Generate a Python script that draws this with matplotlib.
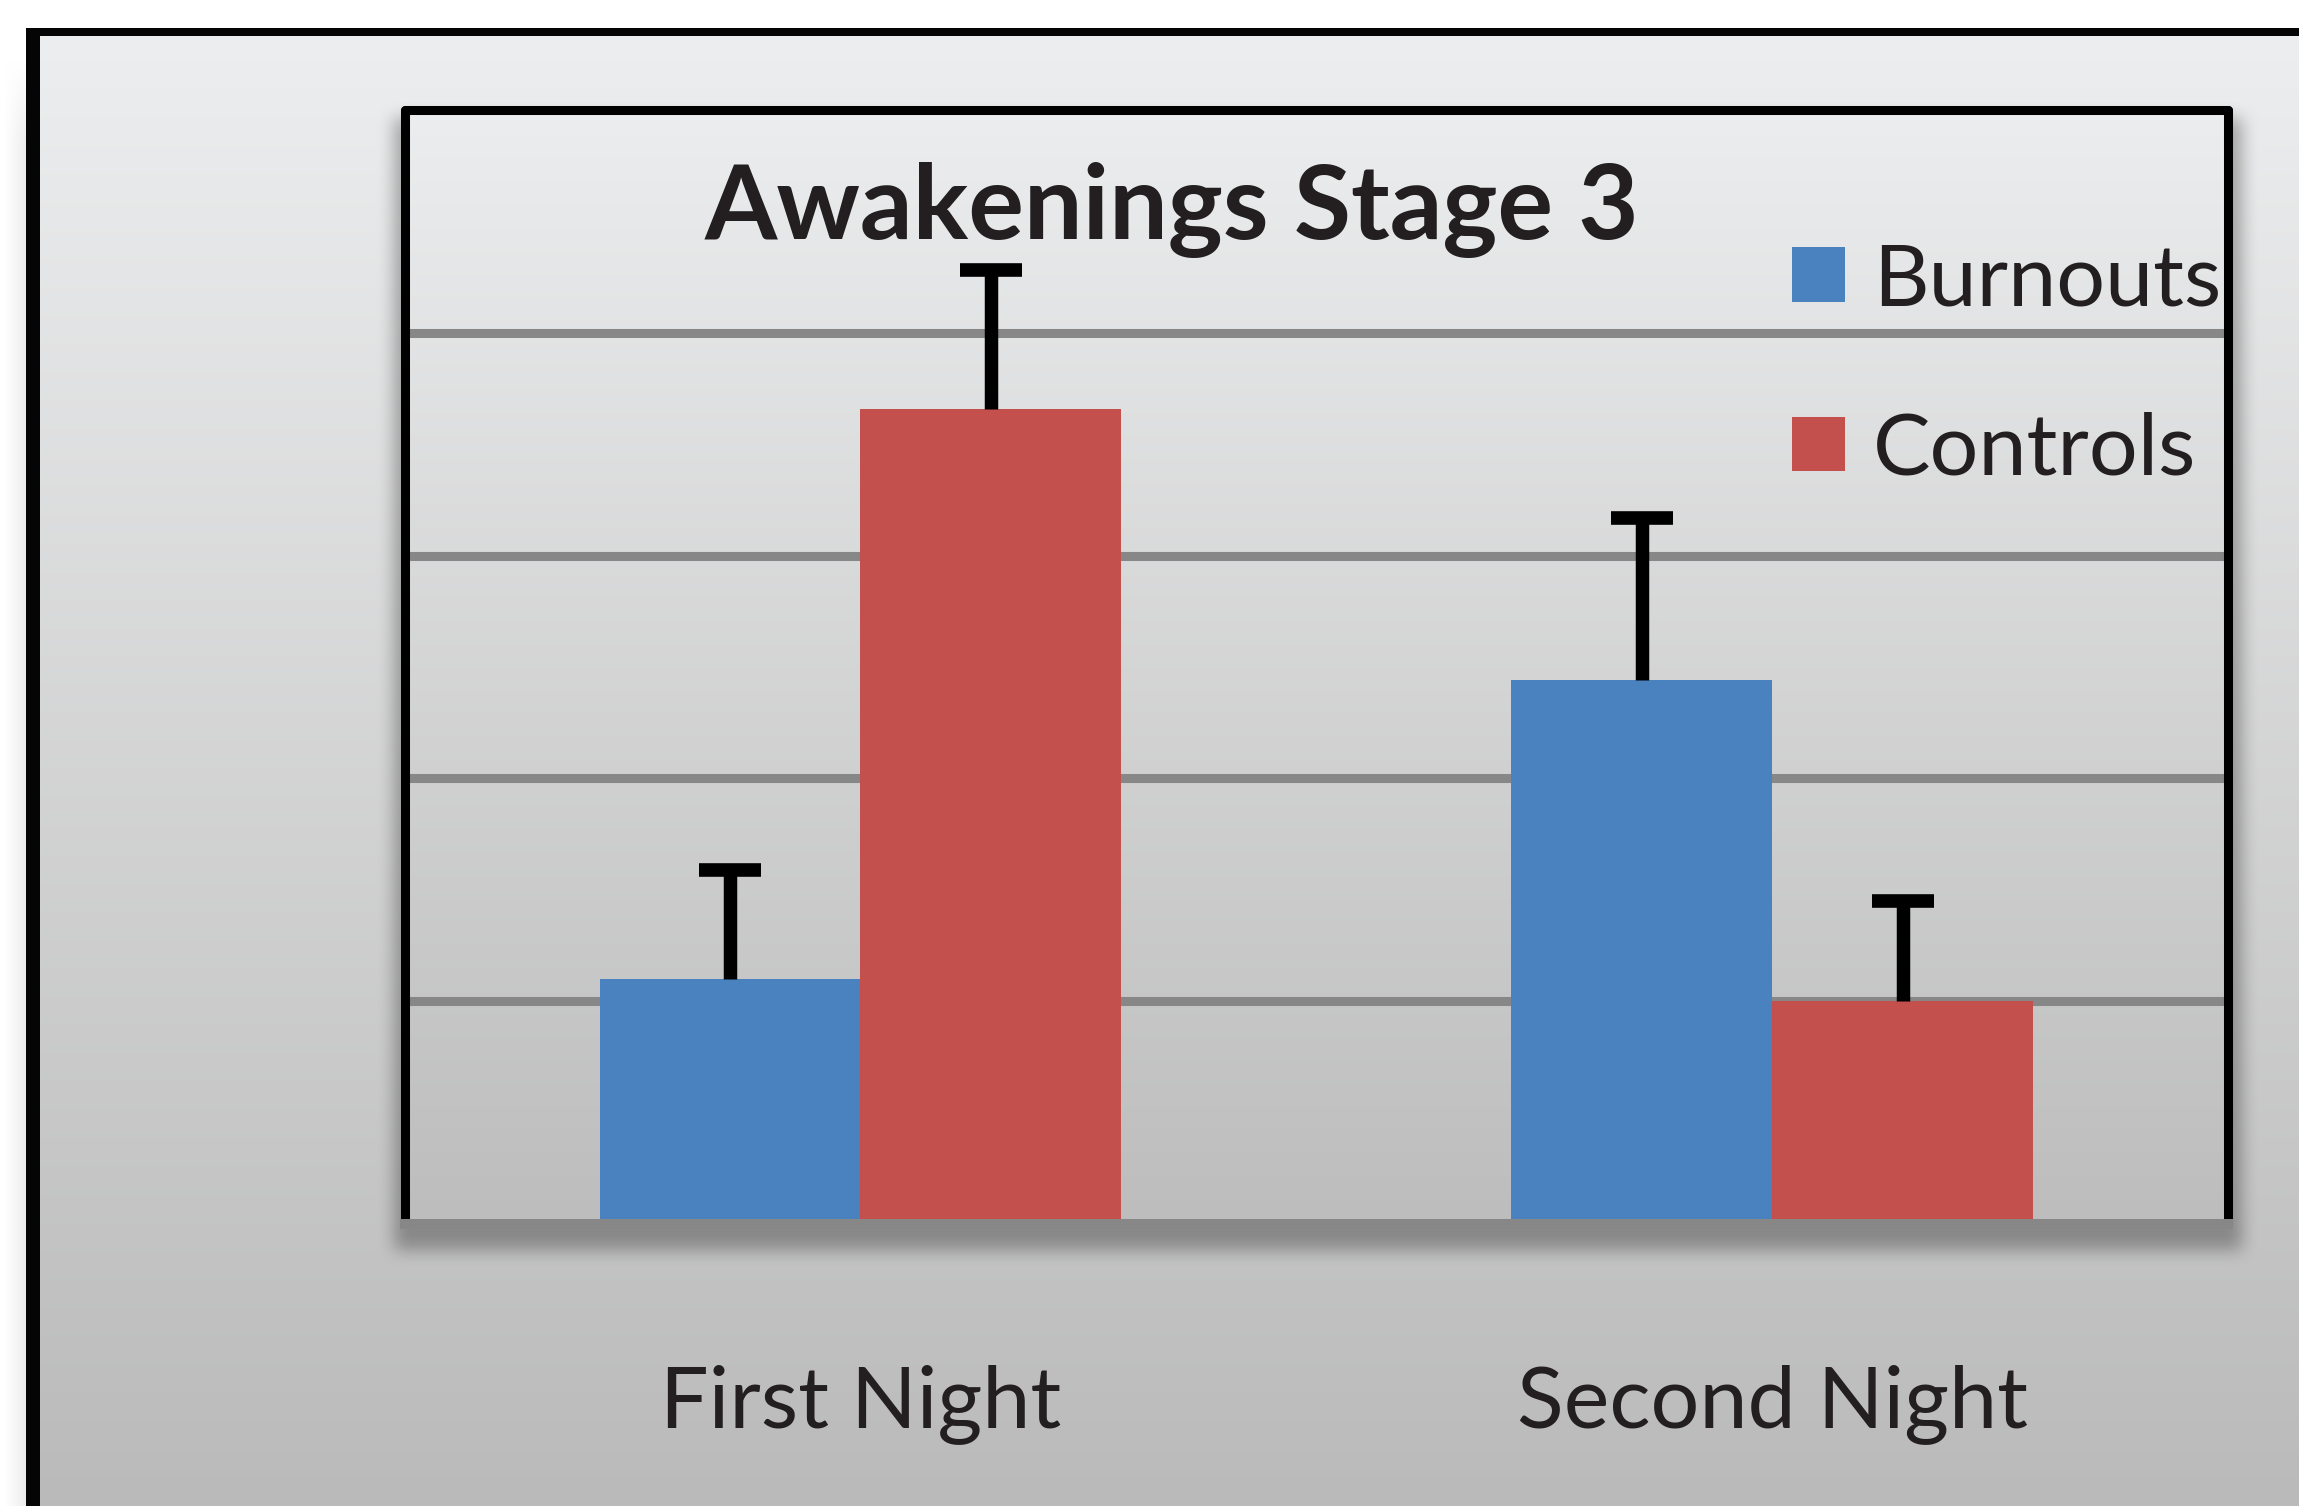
import numpy as np
import matplotlib
matplotlib.use("Agg")
import matplotlib.pyplot as plt
from matplotlib.patches import Patch

# ---- data ----
categories = ["First Night", "Second Night"]
series_names = ["Burnouts", "Controls"]
burnouts = [1.10, 2.44]
burnouts_err = [0.49, 0.73]
controls = [3.66, 1.00]
controls_err = [0.62, 0.45]
title = "Awakenings Stage 3"

# ---- style ----
BLUE = "#4A81BF"
RED = "#C4504E"
GRID = "#878787"
TEXT = "#231F20"

W, H = 2299, 1506
DPI = 100
plt.rcParams["font.family"] = ["Lato", "DejaVu Sans"]

fig = plt.figure(figsize=(W / DPI, H / DPI), dpi=DPI)
fig.patch.set_facecolor("white")


def soft_interval(n, a, b, radius):
    """1-D indicator of [a, b) smoothed by two box filters."""
    pad = 4 * radius
    idx = np.arange(-pad, n + pad)
    ind = ((idx >= a) & (idx < b)).astype(float)
    k = np.ones(2 * radius + 1) / (2 * radius + 1)
    out = np.convolve(np.convolve(ind, k, mode="same"), k, mode="same")
    return out[pad:pad + n]


# ---- slide backdrop (pixel space) ----
yy = np.arange(H, dtype=float)[:, None]
xx = np.arange(W, dtype=float)[None, :]
top_c = np.array([237, 238, 239]) / 255.0
bot_c = np.array([186, 186, 186]) / 255.0
t = np.clip((yy - 32) / (H - 32), 0, 1)[..., None]
img = np.empty((H, W, 3))
img[:] = top_c * (1 - t) + bot_c * t

# soft shadow under the chart box
shadow = 0.30 * soft_interval(H, 118, 1250, 9)[:, None] * soft_interval(W, 394, 2242, 9)[None, :]
img *= (1 - shadow[..., None])

# white margin outside the slide frame, with a faint shade on the left
outside = np.broadcast_to((xx < 26) | (yy < 28), (H, W))
shade = 0.07 * np.clip((xx - 4) / 22, 0, 1) * np.clip((yy - 60) / 80, 0, 1)
white = 1 - np.broadcast_to(shade, (H, W))
img[outside] = np.repeat(white[outside][:, None], 3, axis=1)

# slide frame
img[28:36, 26:] = 0.02
img[28:, 26:40] = 0.02

bg = fig.add_axes([0, 0, 1, 1], zorder=-10)
bg.imshow(img, extent=(0, W, H, 0), interpolation="bilinear", aspect="auto")
bg.set_xlim(0, W)
bg.set_ylim(H, 0)
bg.axis("off")

# ---- chart ----
ax = fig.add_axes([404.5 / W, 1 - 1224 / H, (2228 - 404.5) / W, (1224 - 110) / H])
ax.patch.set_alpha(0)

ymax = 5
grad = np.linspace(0, 1, 256)[:, None, None]
inner_top = np.array([236, 237, 238]) / 255.0
inner_bot = np.array([189, 189, 189]) / 255.0
ax.imshow(inner_top * (1 - grad) + inner_bot * grad, extent=(-0.5, 1.5, 0, ymax),
          aspect="auto", origin="upper", zorder=0, interpolation="bilinear")

x = np.arange(len(categories))
w = 0.286
ax.bar(x - w / 2, burnouts, w, color=BLUE, zorder=2)
ax.bar(x + w / 2, controls, w, color=RED, zorder=2)

# upper-only error bars: hide the caps that sit on the bar tops
err_kw = dict(fmt="none", ecolor="black", elinewidth=9.7, capsize=22.3, capthick=9.8, zorder=3)
for xs, vals, errs in [(x - w / 2, burnouts, burnouts_err), (x + w / 2, controls, controls_err)]:
    _, caps, _ = ax.errorbar(xs, vals, yerr=[np.zeros(len(xs)), errs], **err_kw)
    for cap in caps:
        if np.allclose(cap.get_ydata(), vals):
            cap.set_visible(False)

ax.set_xlim(-0.5, 1.5)
ax.set_ylim(0, ymax)
ax.set_yticks([1, 2, 3, 4])
ax.set_xticks([])
ax.set_axisbelow(True)
ax.yaxis.grid(True, color=GRID, linewidth=6.5)
ax.tick_params(left=False, labelleft=False, bottom=False, labelbottom=False)

for side in ["left", "top", "right"]:
    sp = ax.spines[side]
    sp.set_color("black")
    sp.set_linewidth(6.5)
    sp.set_capstyle("round")
    sp.set_joinstyle("round")
ax.spines["bottom"].set_color(GRID)
ax.spines["bottom"].set_linewidth(7.2)

# category labels below the chart box
xtrans = ax.get_xaxis_transform()
for xi, name in zip(x, categories):
    ax.text(xi, -(1427 - 1224) / (1224 - 110), name, transform=xtrans,
            ha="center", va="baseline", fontsize=62, color=TEXT, clip_on=False)

# title
fig.text(1172 / W, 1 - 239 / H, title, ha="center", va="baseline",
         fontsize=75, fontweight="bold", color=TEXT)

# legend
handles = [Patch(facecolor=BLUE, edgecolor="none"), Patch(facecolor=RED, edgecolor="none")]
ax.legend(handles, series_names, loc="upper left",
          bbox_to_anchor=(1792 / W, 1 - 242 / H), bbox_transform=fig.transFigure,
          frameon=False, fontsize=62, handlelength=0.62, handleheight=0.6,
          handletextpad=0.32, labelspacing=1.06, borderpad=0, borderaxespad=0,
          labelcolor=TEXT)

fig.savefig("out.png", dpi=DPI)
